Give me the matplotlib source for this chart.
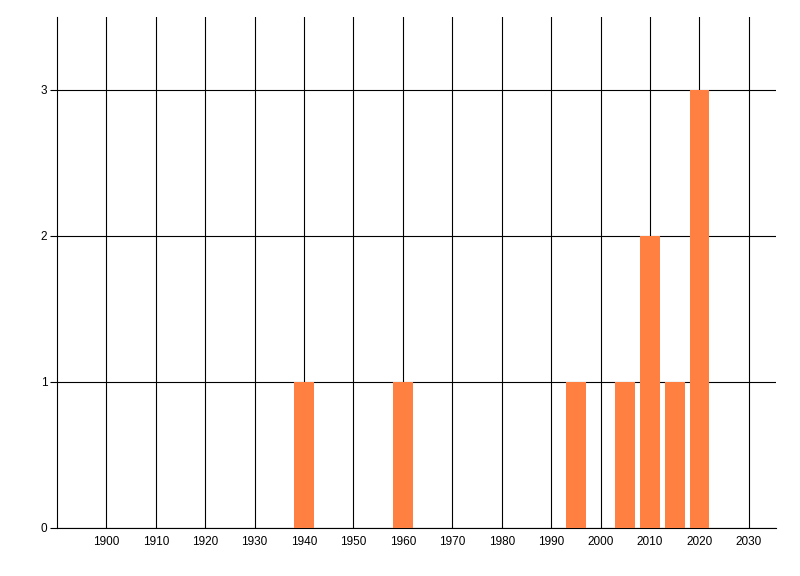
import matplotlib
matplotlib.use('Agg')
import matplotlib.pyplot as plt

anos = [1940, 1960, 1995, 2005, 2010, 2015, 2020]
contagem = [1, 1, 1, 1, 2, 1, 3]
xticks = list(range(1900, 2031, 10))
yticks = [0, 1, 2, 3]

plt.rcParams['font.family'] = ['Liberation Sans', 'DejaVu Sans']

fig = plt.figure(figsize=(8, 5.76), dpi=100)
ax = fig.add_axes([57/800, 1-528/576, (776-57)/800, (528-17)/576])

ax.bar(anos, contagem, width=4, color='#FF8040', zorder=3)

ax.set_xlim(1890, 2035.5)
ax.set_ylim(0, 3.5)
ax.set_xticks(xticks)
ax.set_yticks(yticks)
ax.tick_params(axis='x', length=0, labelsize=8.5, pad=6)
ax.tick_params(axis='y', length=5, width=0.8, labelsize=8.5, pad=2)
ax.grid(True, color='black', linewidth=0.8, zorder=1)
ax.set_axisbelow(True)

for s in ['top', 'right']:
    ax.spines[s].set_visible(False)
for s in ['left', 'bottom']:
    ax.spines[s].set_linewidth(0.8)

fig.savefig('out.png', dpi=100)
